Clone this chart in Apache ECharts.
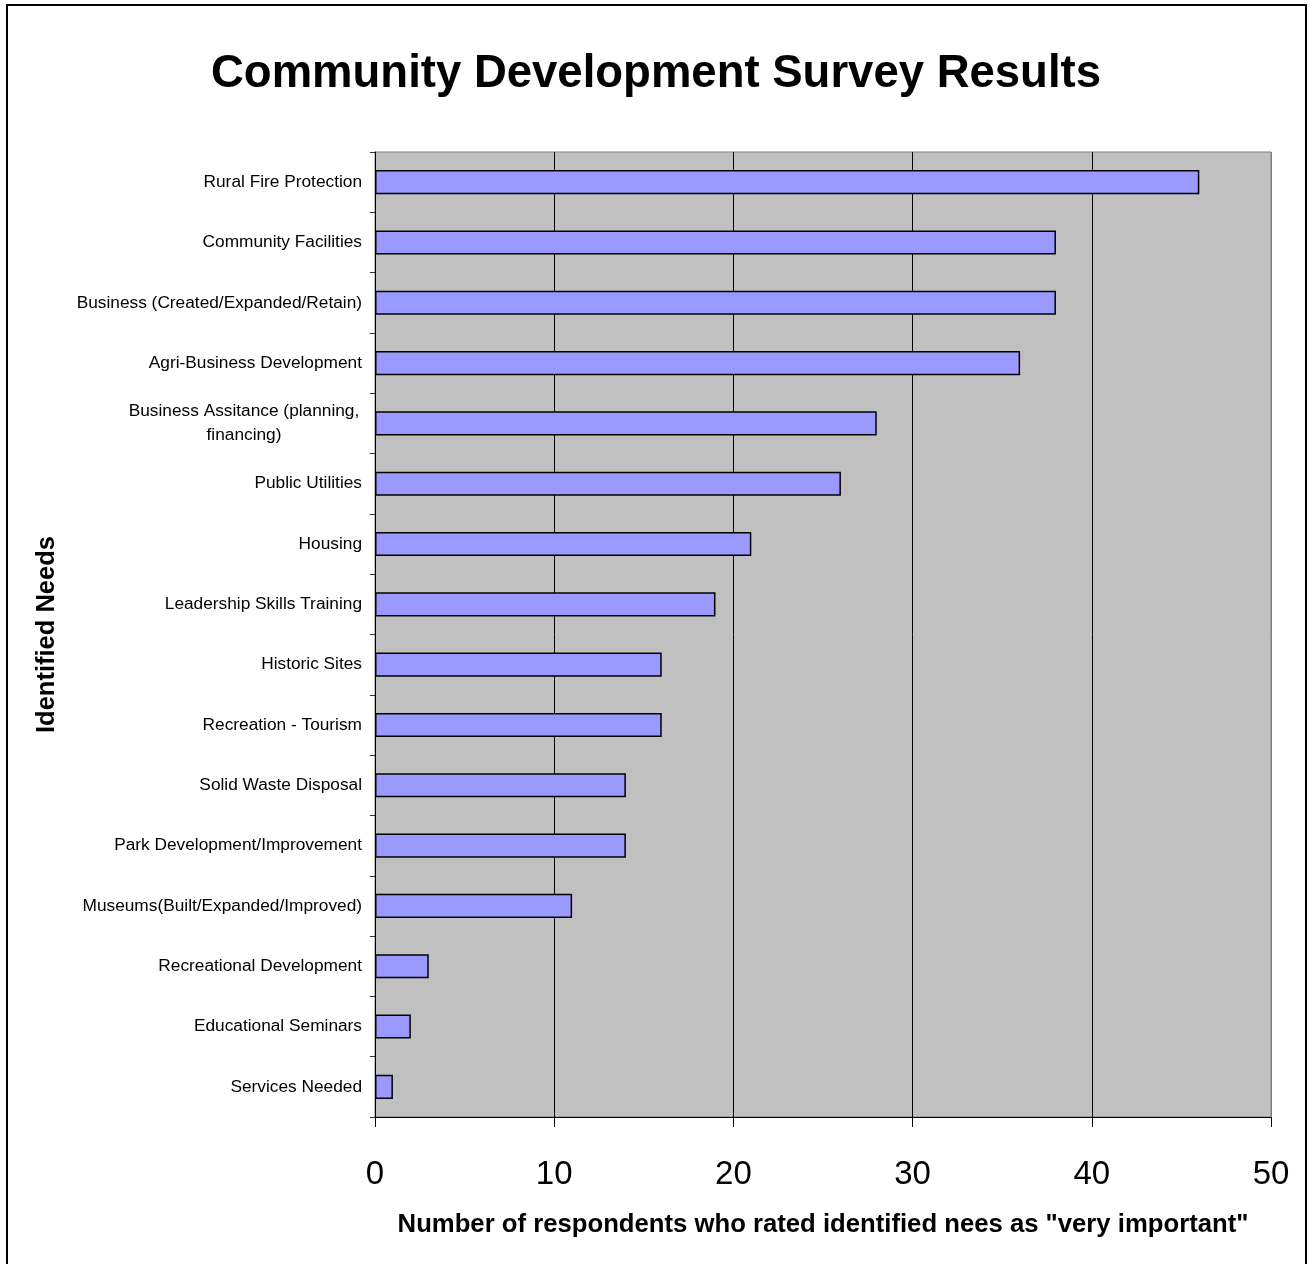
<!DOCTYPE html>
<html>
<head>
<meta charset="utf-8">
<script src="https://cdn.jsdelivr.net/npm/echarts@6/dist/echarts.min.js"></script>
<style>
  html, body { margin: 0; padding: 0; background: #fff; }
  #chart { width: 1312px; height: 1264px; }
</style>
</head>
<body>
<div id="chart"></div>
<script>
// categories top to bottom
var needs = [
  'Rural Fire Protection',
  'Community Facilities',
  'Business (Created/Expanded/Retain)',
  'Agri-Business Development',
  'Business Assitance (planning,\nfinancing)',
  'Public Utilities',
  'Housing',
  'Leadership Skills Training',
  'Historic Sites',
  'Recreation - Tourism',
  'Solid Waste Disposal',
  'Park Development/Improvement',
  'Museums(Built/Expanded/Improved)',
  'Recreational Development',
  'Educational Seminars',
  'Services Needed'
];
var respondents = [46, 38, 38, 36, 28, 26, 21, 19, 16, 16, 14, 14, 11, 3, 2, 1];
var xTicks = [0, 10, 20, 30, 40, 50];

var myChart = echarts.init(document.getElementById('chart'));
var option = {
    backgroundColor: '#fff',
    animation: false,
    textStyle: { fontFamily: 'Liberation Sans, Arial, sans-serif' },
    title: {
        text: 'Community Development Survey Results',
        left: 'center',
        top: 46,
        textStyle: { fontSize: 45.5, fontWeight: 'bold', color: '#000' }
    },
    graphic: [{
        type: 'rect',
        shape: { x: 7, y: 5, width: 1299, height: 1270 },
        style: { fill: 'none', stroke: '#000', lineWidth: 2 }
    }],
    grid: {
        left: 375, top: 152, right: 41, bottom: 147,
        show: true,
        backgroundColor: '#c0c0c0',
        borderColor: '#808080',
        borderWidth: 1
    },
    xAxis: {
        type: 'value',
        min: xTicks[0],
        max: xTicks[xTicks.length - 1],
        interval: 10,
        name: 'Number of respondents who rated identified nees as "very important"',
        nameLocation: 'middle',
        nameGap: 95,
        nameTextStyle: { fontSize: 25.7, fontWeight: 'bold', color: '#000' },
        axisLine: { show: true, lineStyle: { color: '#000', width: 1 } },
        axisTick: { show: true, length: 10, lineStyle: { color: '#000' } },
        axisLabel: { fontSize: 33, color: '#000', margin: 41 },
        splitLine: {
            show: true,
            lineStyle: { color: ['#000', '#000', '#000', '#000', '#000', '#808080'], width: 1 }
        }
    },
    yAxis: {
        type: 'category',
        inverse: true,
        data: needs,
        name: 'Identified Needs',
        nameLocation: 'middle',
        nameGap: 315,
        nameTextStyle: { fontSize: 25.5, fontWeight: 'bold', color: '#000' },
        axisLine: { show: true, lineStyle: { color: '#000', width: 1 } },
        axisTick: { show: true, length: 5, lineStyle: { color: '#333' } },
        axisLabel: {
            fontSize: 17.3,
            color: '#000',
            margin: 13,
            lineHeight: 24,
            formatter: function (v) {
                if (v.indexOf('\n') >= 0) return '{w|' + v + '}';
                return v;
            },
            rich: {
                w: { width: 236, align: 'center', fontSize: 17.3, lineHeight: 24, color: '#000' }
            }
        },
        splitLine: { show: false }
    },
    series: [{
        type: 'bar',
        data: respondents,
        barCategoryGap: '60%',
        itemStyle: { color: '#9999ff', borderColor: '#000', borderWidth: 1.5 }
    }]
};
myChart.setOption(option);
</script>
</body>
</html>
